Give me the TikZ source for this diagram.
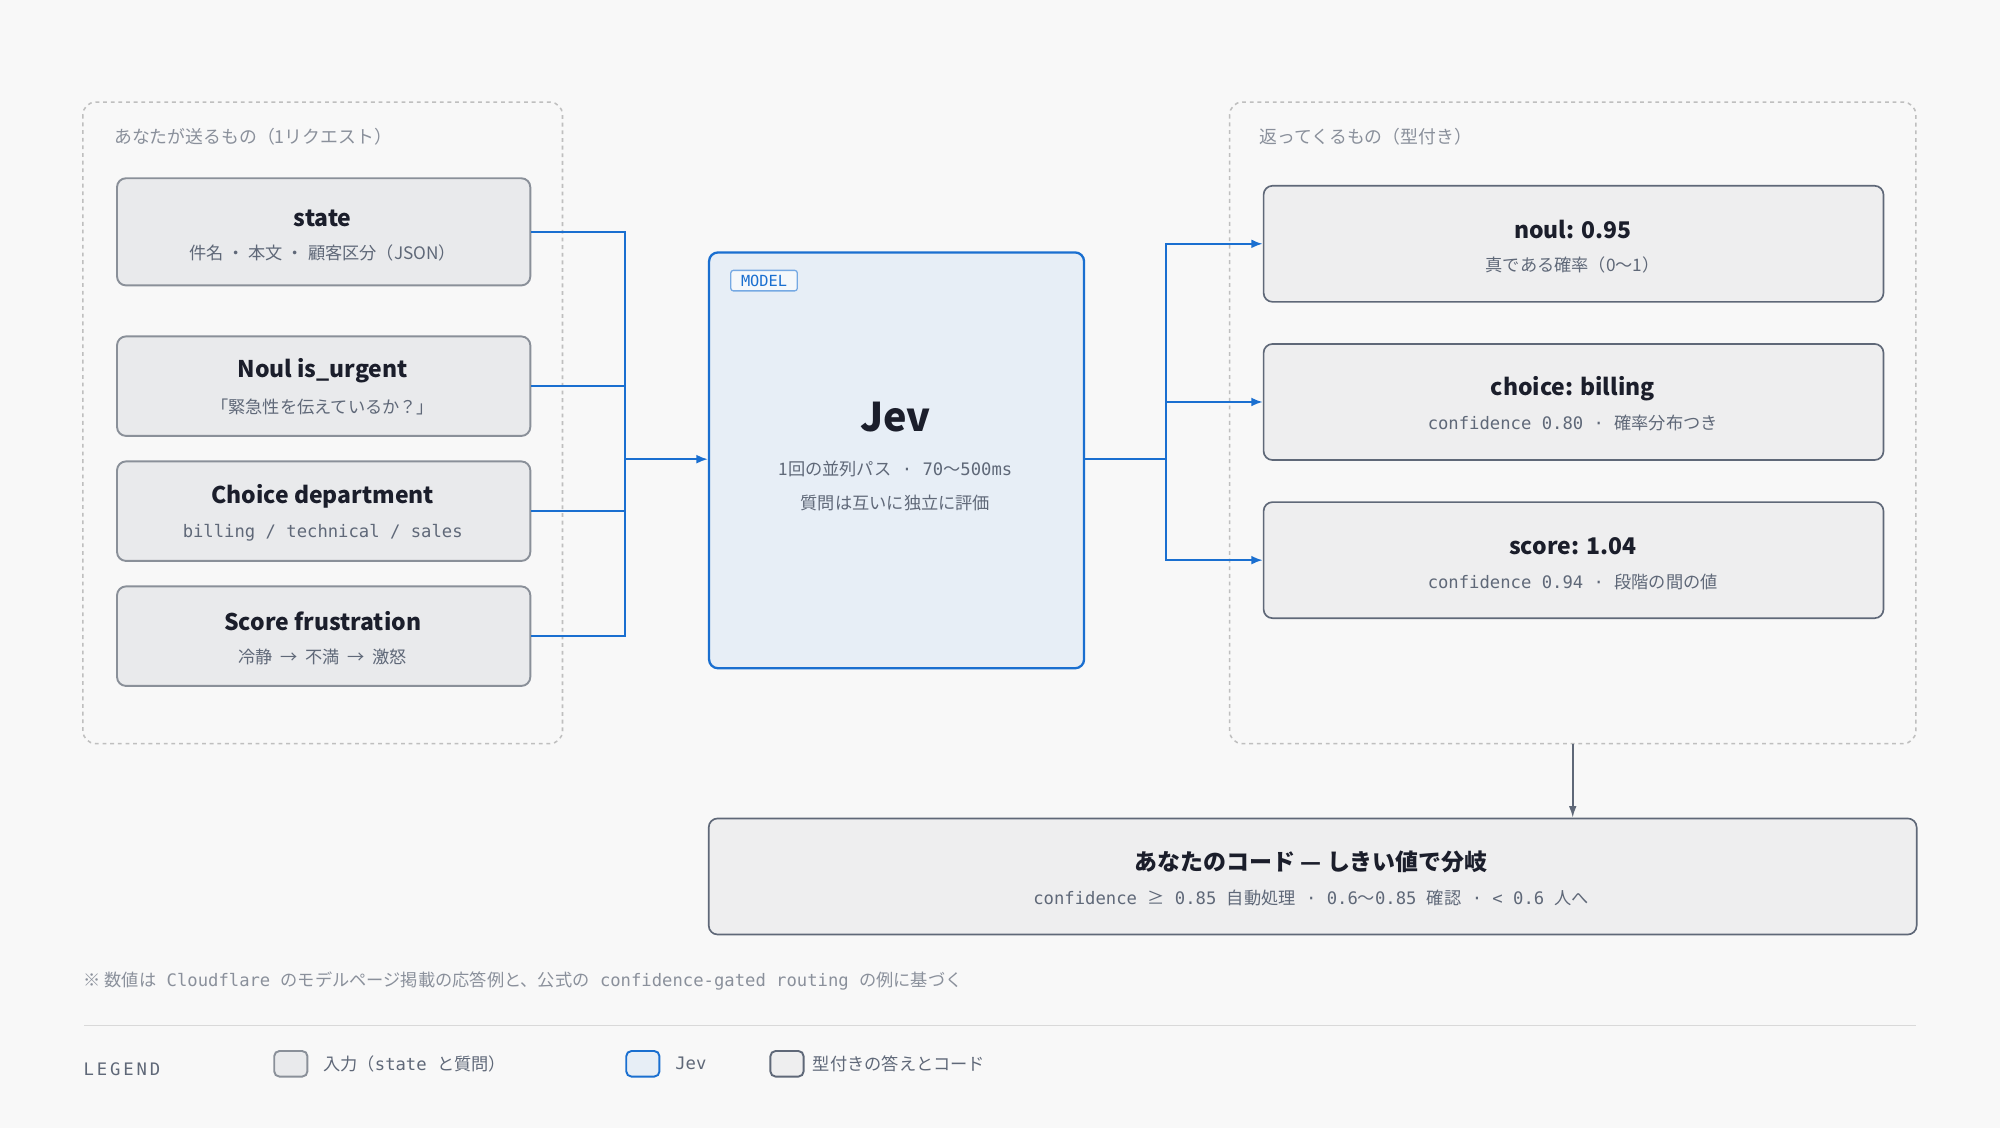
\documentclass[tikz,border=0pt]{standalone}
\usepackage{fontspec}
\setmainfont{Noto Sans CJK JP}
\setmonofont{DejaVu Sans Mono}
\newfontfamily\jp{Noto Sans CJK JP}
\usetikzlibrary{arrows.meta}
\definecolor{pagebg}{HTML}{F8F8F8}
\definecolor{inFill}{HTML}{E9EAEC}
\definecolor{inLine}{HTML}{8A9099}
\definecolor{outFill}{HTML}{EEEEEF}
\definecolor{outLine}{HTML}{5F6878}
\definecolor{jevFill}{HTML}{E7EEF6}
\definecolor{jevBlue}{HTML}{1A6FD0}
\definecolor{ink}{HTML}{1B1E2B}
\definecolor{muted}{HTML}{5F6878}
\definecolor{soft}{HTML}{8A909B}
\begin{document}
\begin{tikzpicture}[x=1pt, y=-1pt,
    group/.style={draw=black!25, dashed, line width=1.2pt, rounded corners=10pt},
    inbox/.style={rectangle, draw=inLine, fill=inFill, line width=1.5pt, rounded corners=7pt, anchor=north west, inner sep=0pt},
    outbox/.style={rectangle, draw=outLine, fill=outFill, line width=1.3pt, rounded corners=7pt, anchor=north west, inner sep=0pt},
    title/.style={font=\fontsize{18}{21}\selectfont\bfseries, text=ink},
    sub/.style={font=\fontsize{13.5}{16}\selectfont, text=muted},
    code/.style={font=\fontsize{13.5}{16}\selectfont\ttfamily, text=muted},
    glabel/.style={font=\fontsize{14}{16}\selectfont, text=soft, anchor=west},
    wire/.style={draw=jevBlue, line width=1.6pt},
    arr/.style={wire, -{Latex[length=9pt, width=7pt]}},
    swatch/.style={rectangle, rounded corners=4pt, line width=1.5pt, minimum width=26pt, minimum height=20pt, inner sep=0pt}]
  \fill[pagebg] (0,0) rectangle (1568,884);
  \useasboundingbox (0,0) rectangle (1568,884);

  % groups
  \draw[group] (65,80) rectangle (441,583);
  \node[glabel] (inLabel) at (86,107) {あなたが送るもの（1リクエスト）};
  \draw[group] (964,80) rectangle (1502,583);
  \coordinate (outBottom) at (1233,583);
  \node[glabel] (outLabel) at (984,107) {返ってくるもの（型付き）};

  % inputs
  \node (state) [inbox, minimum width=324pt, minimum height=84pt] at (91,139) {};
  \node[title] at (253,171) {state};
  \node[sub] at (253,198) {件名 ・ 本文 ・ 顧客区分（JSON）};
  \node (urgent) [inbox, minimum width=324pt, minimum height=78pt] at (91,263) {};
  \node[title] at (253,291) {Noul is\_urgent};
  \node[sub] at (253,319) {「緊急性を伝えているか？」};
  \node (dept) [inbox, minimum width=324pt, minimum height=78pt] at (91,361) {};
  \node[title] at (253,389) {Choice department};
  \node[code] at (253,418) {billing / technical / sales};
  \node (frust) [inbox, minimum width=324pt, minimum height=78pt] at (91,459) {};
  \node[title] at (253,487) {Score frustration};
  \node[sub] at (253,515) {冷静 \ → \ 不満 \ → \ 激怒};

  % model
  \node (jev) [rectangle, draw=jevBlue, fill=jevFill, line width=1.8pt, rounded corners=7pt, anchor=north west, minimum width=294pt, minimum height=326pt, inner sep=0pt] at (555,197) {};
  \node (tag) [rectangle, draw=jevBlue!60, fill=white!60!jevFill, rounded corners=2pt, line width=1pt, font=\fontsize{12}{14}\selectfont\ttfamily, text=jevBlue, inner xsep=8pt, inner ysep=3.5pt] at (599,220) {MODEL};
  \node[font=\fontsize{31}{35}\selectfont\bfseries, text=ink] at (702,327) {Jev};
  \node[code] at (702,368) {{\jp 1回の並列パス} · 70{\jp 〜}500ms};
  \node[sub] at (702,394) {質問は互いに独立に評価};

  % outputs
  \node (noul) [outbox, minimum width=486pt, minimum height=91pt] at (990,145) {};
  \node[title] at (1233,180) {noul: 0.95};
  \node[sub] at (1233,208) {真である確率（0〜1）};
  \node (choice) [outbox, minimum width=486pt, minimum height=91pt] at (990,269) {};
  \node[title] at (1233,305) {choice: billing};
  \node[code] at (1233,332) {confidence 0.80 · {\jp 確率分布つき}};
  \node (score) [outbox, minimum width=486pt, minimum height=91pt] at (990,393) {};
  \node[title] at (1233,428) {score: 1.04};
  \node[code] at (1233,456) {confidence 0.94 · {\jp 段階の間の値}};

  \node (code) [outbox, minimum width=947pt, minimum height=91pt] at (555,641) {};
  \node[title] at (1028,676) {あなたのコード — しきい値で分岐};
  \node[code] at (1028,704) {confidence {\jp ≥} 0.85 {\jp 自動処理} · 0.6{\jp 〜}0.85 {\jp 確認} · < 0.6 {\jp 人へ}};

  % connectors
  \coordinate (inBus) at (490,360);
  \coordinate (outBus) at (914,360);
  \draw[wire] (state.east) -| (inBus);
  \draw[wire] (urgent.east) -| (inBus);
  \draw[wire] (dept.east) -| (inBus);
  \draw[wire] (frust.east) -| (inBus);
  \draw[arr] (inBus) -- (inBus -| jev.west);
  \draw[wire] (outBus -| jev.east) -- (outBus);
  \draw[arr] (outBus) |- (noul.west);
  \draw[arr] (outBus) |- (choice.west);
  \draw[arr] (outBus) |- (score.west);
  \draw[draw=outLine, line width=1.3pt, -{Latex[length=9pt, width=6pt]}] (outBottom) -- (code.north -| outBottom);

  % footnote and legend
  \node[anchor=west, font=\fontsize{13.5}{16}\selectfont\ttfamily, text=soft] (note) at (62,769) {{\jp ※ 数値は} Cloudflare {\jp のモデルページ掲載の応答例と、公式の} confidence-gated routing {\jp の例に基づく}};
  \draw[black!15, line width=1.5pt] (66,804) -- (1502,804);
  \node[anchor=west, font=\fontsize{13.5}{16}\selectfont\ttfamily, text=muted] (legend) at (62,838) {L\,E\,G\,E\,N\,D};
  \node (swIn) [swatch, draw=inLine, fill=inFill] at (228,834) {};
  \node[anchor=west, font=\fontsize{13.5}{16}\selectfont\ttfamily, text=muted] at (swIn.east) {\ {\jp 入力（}state {\jp と質問）}};
  \node (swJev) [swatch, draw=jevBlue, fill=jevFill] at (504,834) {};
  \node[anchor=west, font=\fontsize{13.5}{16}\selectfont\ttfamily, text=muted] at (swJev.east) {\ Jev};
  \node (swOut) [swatch, draw=outLine, fill=outFill] at (617,834) {};
  \node[anchor=west, sub] at (swOut.east) {\ 型付きの答えとコード};
\end{tikzpicture}
\end{document}
